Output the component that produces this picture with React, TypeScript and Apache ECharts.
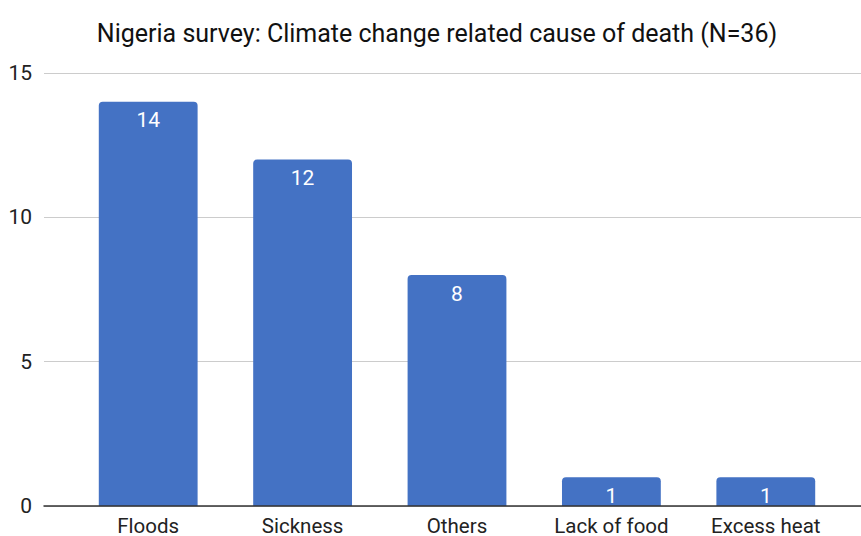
import React, { useEffect, useRef } from "react";
import * as echarts from "echarts";

const categories = ["Floods", "Sickness", "Others", "Lack of food", "Excess heat"];
const deaths = [14, 12, 8, 1, 1];
const yTicks = [0, 5, 10, 15];
const chartTitle = "Nigeria survey: Climate change related cause of death (N=36)";

const FONT = "Roboto, 'Noto Sans', sans-serif";

export default function App() {
  const ref = useRef<HTMLDivElement>(null);

  useEffect(() => {
    if (!ref.current) return;
    const chart = echarts.init(ref.current, null, { renderer: "svg" });
    const yMax = yTicks[yTicks.length - 1];
    const step = yTicks[1] - yTicks[0];
    chart.setOption({
      animation: false,
      backgroundColor: "#ffffff",
      textStyle: { fontFamily: FONT },
      title: {
        text: chartTitle,
        left: 432,
        top: 16,
        textAlign: "center",
        textStyle: { fontFamily: FONT, fontSize: 25, fontWeight: "normal", color: "#111" },
      },
      grid: [
        // bars
        { left: 71, right: 18, top: 73, bottom: 30, outerBoundsMode: "none", containLabel: false },
        // gridlines and value labels across the full width
        { left: 44, right: 0, top: 73, bottom: 30, outerBoundsMode: "none", containLabel: false },
      ],
      xAxis: [
        {
          type: "category",
          data: categories,
          gridIndex: 0,
          axisLine: { show: false },
          axisTick: { show: false },
          axisLabel: {
            color: "#222",
            fontSize: 20.5,
            lineHeight: 16,
            fontFamily: FONT,
            margin: 12,
          },
        },
        {
          type: "category",
          data: [""],
          gridIndex: 1,
          axisLine: { show: true, lineStyle: { color: "#333", width: 1.5 } },
          axisTick: { show: false },
          axisLabel: { show: false },
          z: 5,
        },
      ],
      yAxis: [
        {
          type: "value",
          gridIndex: 0,
          min: 0,
          max: yMax,
          interval: step,
          axisLabel: { show: false },
          splitLine: { show: false },
          axisLine: { show: false },
          axisTick: { show: false },
        },
        {
          type: "value",
          gridIndex: 1,
          min: 0,
          max: yMax,
          interval: step,
          axisLabel: { color: "#222", fontSize: 21, fontFamily: FONT, margin: 12 },
          splitLine: { show: true, lineStyle: { color: "#cccccc", width: 1 } },
          axisLine: { show: false },
          axisTick: { show: false },
        },
      ],
      series: [
        {
          type: "bar",
          xAxisIndex: 0,
          yAxisIndex: 0,
          data: deaths,
          barCategoryGap: "36%",
          z: 3,
          itemStyle: { color: "#4472c4", borderRadius: [4, 4, 0, 0] },
          label: {
            show: true,
            position: "insideTop",
            distance: 8,
            color: "#ffffff",
            fontSize: 21,
            fontFamily: FONT,
          },
        },
      ],
    });
    return () => chart.dispose();
  }, []);

  return (
    <div
      ref={ref}
      style={{ position: "fixed", left: 0, top: 0, width: 861, height: 536 }}
    />
  );
}
